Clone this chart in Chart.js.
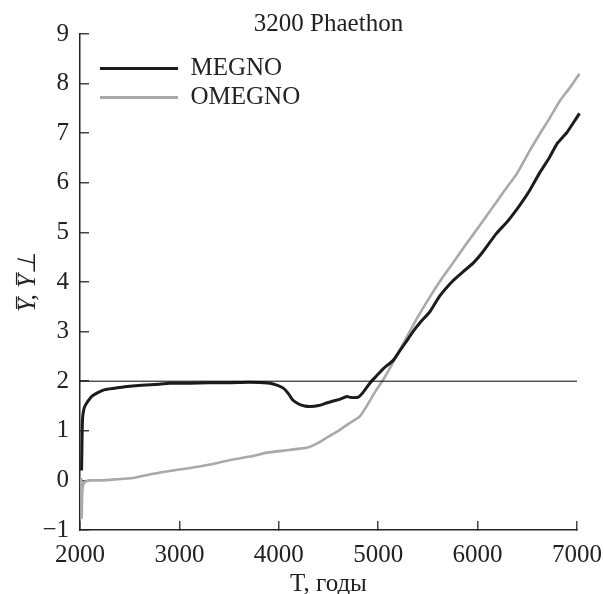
<!DOCTYPE html>
<html><head><meta charset="utf-8">
<script src="https://cdn.jsdelivr.net/npm/chart.js@4.4.1/dist/chart.umd.min.js"></script>
<style>html,body{margin:0;padding:0;background:#fff}</style>
</head><body>
<canvas id="c" width="604" height="594" style="display:block;width:604px;height:594px"></canvas>
<script>
const chartTitle = '3200 Phaethon';
const xAxisTitle = 'T, годы';
const yAxisTitle = 'Y\u0305, Y\u0305\u22A5';
const seriesNames = ['MEGNO', 'OMEGNO'];
const xTicks = [2000, 3000, 4000, 5000, 6000, 7000];
const yTicks = [-1, 0, 1, 2, 3, 4, 5, 6, 7, 8, 9];
const refLevel = 2;

const megnoT = [2016, 2019, 2022, 2026, 2035, 2050, 2080, 2120, 2180, 2250, 2350, 2450, 2620, 2800, 2900, 3100, 3300, 3500, 3700, 3850, 3910, 3980, 4045, 4100, 4140, 4200, 4260, 4315, 4400, 4480, 4550, 4620, 4685, 4730, 4800, 4850, 4920, 4980, 5050, 5150, 5220, 5300, 5350, 5420, 5520, 5620, 5750, 5850, 5955, 6050, 6190, 6300, 6400, 6460, 6525, 6630, 6720, 6800, 6900, 6960, 7025];
const megnoY = [0.2, 0.6, 1.0, 1.25, 1.4, 1.5, 1.6, 1.7, 1.77, 1.83, 1.86, 1.89, 1.92, 1.94, 1.96, 1.96, 1.97, 1.97, 1.98, 1.97, 1.96, 1.92, 1.86, 1.74, 1.62, 1.54, 1.50, 1.49, 1.51, 1.56, 1.60, 1.64, 1.69, 1.67, 1.68, 1.78, 1.97, 2.10, 2.25, 2.42, 2.62, 2.85, 3.00, 3.18, 3.40, 3.72, 4.02, 4.20, 4.38, 4.60, 4.98, 5.22, 5.48, 5.65, 5.85, 6.22, 6.50, 6.79, 7.02, 7.20, 7.40];

const omegnoT = [2012, 2016, 2019, 2022, 2026, 2035, 2050, 2100, 2200, 2350, 2535, 2700, 2870, 3000, 3200, 3400, 3540, 3710, 3880, 4045, 4210, 4315, 4400, 4480, 4600, 4700, 4815, 4900, 4980, 5050, 5150, 5290, 5400, 5520, 5650, 5750, 5880, 6025, 6150, 6255, 6400, 6525, 6630, 6730, 6830, 6930, 7025];
const omegnoY = [0.05, -0.75, -0.6, -0.3, -0.15, -0.08, -0.03, 0.0, 0.0, 0.02, 0.05, 0.12, 0.18, 0.22, 0.28, 0.36, 0.42, 0.48, 0.56, 0.60, 0.64, 0.68, 0.76, 0.86, 1.00, 1.14, 1.29, 1.55, 1.82, 2.03, 2.38, 2.90, 3.30, 3.70, 4.10, 4.38, 4.75, 5.15, 5.50, 5.80, 6.20, 6.65, 7.00, 7.32, 7.66, 7.92, 8.20];

const SERIF = '"Liberation Serif", "Times New Roman", serif';
const pts = (xs, ys) => xs.map((x, i) => ({x: x, y: ys[i]}));

const legendMover = {
  id: 'legendMover',
  afterLayout(chart) {
    const lg = chart.legend;
    if (!lg) return;
    const ca = chart.chartArea;
    lg.left = ca.left + 16;
    lg.top = ca.top + 18;
    lg.right = ca.right;
    lg.bottom = ca.bottom;
  }
};

new Chart(document.getElementById('c'), {
  type: 'line',
  data: {
    datasets: [
      {
        label: seriesNames[0],
        data: pts(megnoT, megnoY),
        borderColor: '#1c1c1c', backgroundColor: '#1c1c1c',
        borderWidth: 3, pointRadius: 0, tension: 0.2, clip: 6, order: 1
      },
      {
        label: seriesNames[1],
        data: pts(omegnoT, omegnoY),
        borderColor: '#a9a9a9', backgroundColor: '#a9a9a9',
        borderWidth: 2.6, pointRadius: 0, tension: 0.2, clip: 6, order: 2
      },
      {
        label: 'ref',
        data: [{x: xTicks[0], y: refLevel}, {x: xTicks[xTicks.length - 1], y: refLevel}],
        borderColor: '#000', backgroundColor: '#000',
        borderWidth: 1, pointRadius: 0, order: 0
      }
    ]
  },
  options: {
    responsive: false,
    animation: false,
    layout: {padding: {left: 0, right: 27, top: 0, bottom: 0}},
    plugins: {
      title: {
        display: true, text: chartTitle, color: '#222', fullSize: false,
        font: {family: SERIF, size: 25, weight: 'normal', lineHeight: 0.8},
        padding: {top: 14, bottom: 0}
      },
      legend: {
        position: 'chartArea', align: 'start',
        labels: {
          color: '#222', boxWidth: 78, boxHeight: 3, padding: 4,
          font: {family: SERIF, size: 25},
          filter: (item) => item.datasetIndex < 2,
          generateLabels(chart) {
            const items = Chart.defaults.plugins.legend.labels.generateLabels(chart);
            items.forEach(it => { it.lineWidth = 0; });
            return items;
          }
        }
      },
      tooltip: {enabled: false}
    },
    scales: {
      x: {
        type: 'linear', min: xTicks[0], max: xTicks[xTicks.length - 1],
        afterBuildTicks: (s) => { s.ticks = xTicks.map(v => ({value: v})); },
        afterFit: (s) => { s.height = 64; s.paddingRight = 0; s.paddingLeft = 0; },
        grid: {drawOnChartArea: false, drawTicks: true, tickLength: -9, color: '#444', tickColor: '#444', tickWidth: 1.5, lineWidth: 1.5},
        border: {display: true, color: '#222', width: 1.5},
        ticks: {color: '#222', padding: 19, maxRotation: 0, autoSkip: false, font: {family: SERIF, size: 25},
          callback: (v) => String(v)},
        title: {display: true, text: xAxisTitle, color: '#222', font: {family: SERIF, size: 25, lineHeight: 0.8}, padding: {top: 0, bottom: 0}}
      },
      y: {
        type: 'linear', min: yTicks[0], max: yTicks[yTicks.length - 1],
        afterBuildTicks: (s) => { s.ticks = yTicks.map(v => ({value: v})); },
        afterFit: (s) => { s.width = 80; s.paddingTop = 0; s.paddingBottom = 0; },
        grid: {drawOnChartArea: false, drawTicks: true, tickLength: -9, color: '#444', tickColor: '#444', tickWidth: 1.5, lineWidth: 1.5},
        border: {display: true, color: '#222', width: 1.5},
        ticks: {color: '#222', padding: 20, font: {family: SERIF, size: 25},
          callback: (v) => String(v).replace('-', '\u2212')},
        title: {display: true, text: yAxisTitle, color: '#222', font: {family: SERIF, size: 25, style: 'italic', lineHeight: 1}, padding: {top: 16, bottom: 0}}
      }
    }
  },
  plugins: [legendMover]
});
</script>
</body></html>
